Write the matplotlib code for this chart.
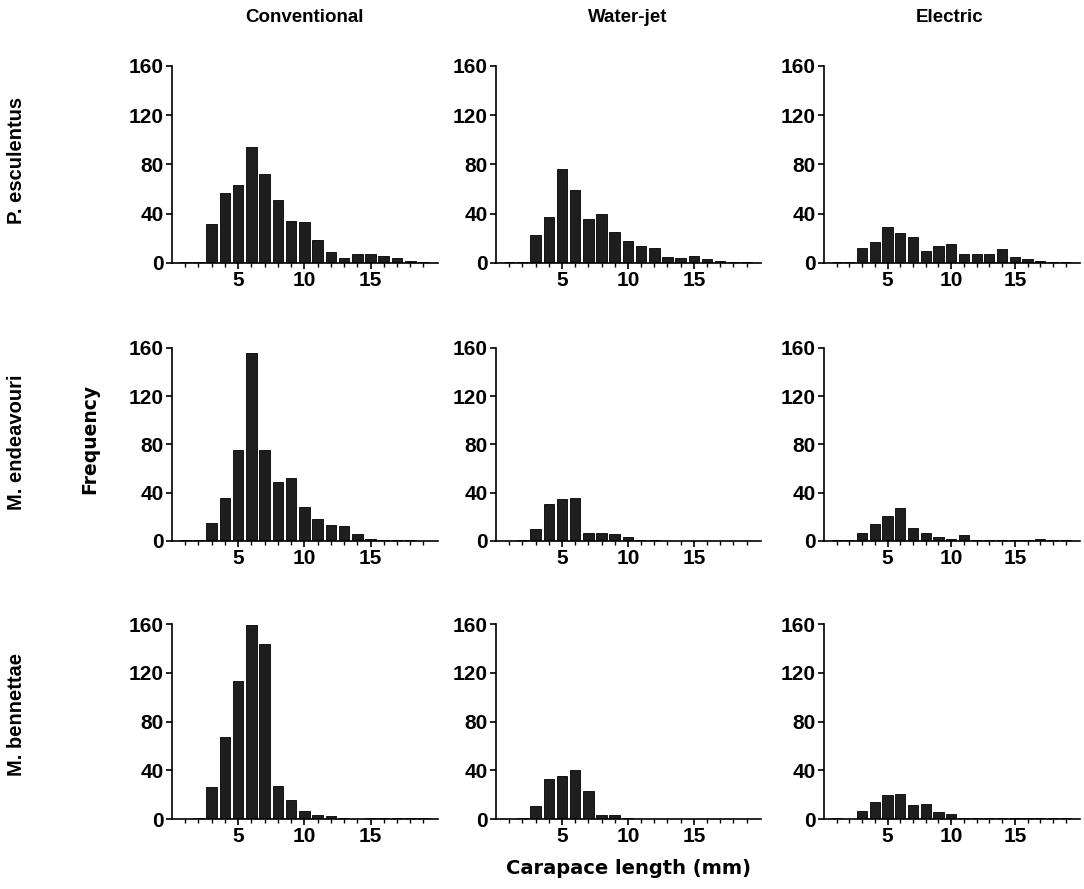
import numpy as np
import matplotlib.pyplot as plt

plt.rcParams['font.family'] = ['Liberation Sans', 'DejaVu Sans']
plt.rcParams['font.weight'] = 'bold'

lengths = np.arange(1, 20)  # carapace length classes (mm)

methods = ["Conventional", "Water-jet", "Electric"]
species = ["P. esculentus", "M. endeavouri", "M. bennettae"]

# P. esculentus
pe_conv = [0.5, 1, 32, 57, 63, 94, 72, 51, 34, 33, 19, 9, 4, 7.5, 7.5, 5.5, 4, 2, 1]
pe_wjet = [0.5, 1, 23, 37, 76, 59, 36, 40, 25, 18, 14, 12, 5, 4, 5.5, 3, 1.5, 0.5, 0.5]
pe_elec = [1, 0.5, 12.5, 17, 29, 24, 21, 10, 14, 15, 7, 7.5, 7.5, 11, 5, 3, 2, 1, 0.5]

# M. endeavouri
me_conv = [0.5, 1, 15, 36, 75, 156, 75, 49, 52, 28, 18, 13.5, 12, 5.5, 1.5, 1, 0.5, 0.5, 0.3]
me_wjet = [0.3, 0.6, 10, 31, 35, 36, 6.6, 6.3, 5.5, 3.3, 0.8, 0.5, 0.3, 0.3, 0.3, 0.3, 0.3, 0.3, 0.3]
me_elec = [0.5, 0.5, 6.6, 14, 21, 27, 10.5, 7, 3.6, 2, 4.7, 1, 0.8, 0.5, 0.8, 1.2, 1.5, 0.8, 0.8]

# M. bennettae
mb_conv = [0.3, 0.5, 26, 67, 113, 159, 144, 27, 16, 6.6, 3.3, 2.7, 0.5, 0.3, 0.5, 0.5, 0.5, 0.5, 0.5]
mb_wjet = [0.3, 0.5, 11, 33, 35.5, 40, 23, 3.5, 3.5, 0.5, 0.3, 0.3, 0.3, 0.3, 0.3, 0.3, 0.3, 0.3, 0.3]
mb_elec = [0.5, 0.3, 7, 14, 20, 20.5, 11.5, 12, 5.5, 4.4, 0.5, 0.5, 0.5, 0.5, 0.5, 1, 0.5, 0.5, 0.5]

counts = [[pe_conv, pe_wjet, pe_elec],
          [me_conv, me_wjet, me_elec],
          [mb_conv, mb_wjet, mb_elec]]

fig = plt.figure(figsize=(10.84, 8.89), dpi=100)

col_left = [0.1587, 0.4576, 0.7601]
col_width = [0.2454, 0.2445, 0.236]
row_bottom = [0.7042, 0.3915, 0.0787]
row_height = [0.2216, 0.2171, 0.2193]

for r in range(3):
    for c in range(3):
        ax = fig.add_axes([col_left[c], row_bottom[r], col_width[c], row_height[r]])
        ax.bar(lengths, counts[r][c], width=0.8, color='#1e1e1e', edgecolor='#000000', linewidth=0.6)
        ax.set_xlim(0, 20.1)
        ax.set_ylim(0, 160)
        ax.set_yticks([0, 40, 80, 120, 160])
        ax.set_xticks([5, 10, 15])
        ax.set_xticks(np.arange(1, 20), minor=True)
        ax.spines['top'].set_visible(False)
        ax.spines['right'].set_visible(False)
        for s in ['left', 'bottom']:
            ax.spines[s].set_linewidth(1.2)
        ax.tick_params(axis='both', which='major', labelsize=15, length=4, width=1.2, pad=2)
        ax.tick_params(axis='x', which='minor', length=3, width=1)
        for lab in ax.get_xticklabels() + ax.get_yticklabels():
            lab.set_fontweight('bold')

# column titles
col_centres = [305, 628, 950]
for name, xc in zip(methods, col_centres):
    fig.text(xc / 1084, 1 - 17 / 889, name, ha='center', va='center', fontsize=13.5, fontweight='bold')

# row labels
row_centres = [160, 442, 715]
for name, yc in zip(species, row_centres):
    fig.text(17 / 1084, 1 - yc / 889, name, ha='center', va='center', rotation=90,
             fontsize=14.5, fontweight='bold')

fig.text(90 / 1084, 1 - 439 / 889, "Frequency", ha='center', va='center', rotation=90,
         fontsize=13.5, fontweight='bold', family='DejaVu Sans')
fig.text(629 / 1084, 1 - 868 / 889, "Carapace length (mm)", ha='center', va='center',
         fontsize=14, fontweight='bold', family='DejaVu Sans')

fig.savefig("out.png", dpi=100)
